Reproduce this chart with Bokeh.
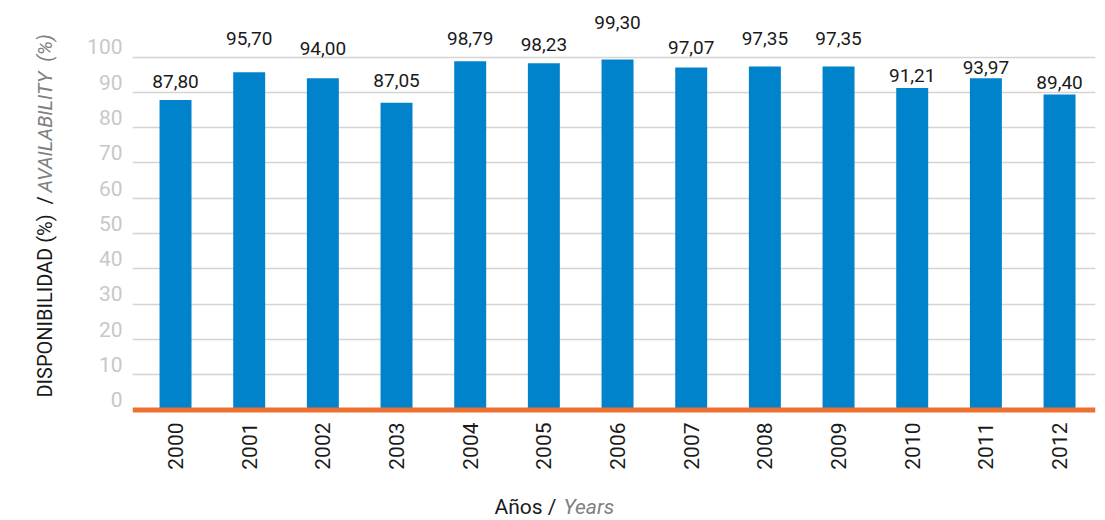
import numpy as np
from bokeh.plotting import figure
from bokeh.models import (ColumnDataSource, Range1d, FixedTicker, Span, Label,
                          CustomJSTickFormatter)
from bokeh.core.properties import value
from bokeh.embed import file_html
from bokeh.resources import INLINE

# Yearly availability (%)
years = ["2000", "2001", "2002", "2003", "2004", "2005", "2006",
         "2007", "2008", "2009", "2010", "2011", "2012"]
availability = [87.80, 95.70, 94.00, 87.05, 98.79, 98.23, 99.30,
                97.07, 97.35, 97.35, 91.21, 93.97, 89.40]
y_ticks = [0, 10, 20, 30, 40, 50, 60, 70, 80, 90, 100]

# how far (px) each value label's baseline sits above its bar
label_lift = [12, 27, 23, 15, 16, 12, 30, 13, 21, 21, 6, 4, 5]

FONT = "Roboto"
BLUE = "#0083CA"
ORANGE = "#EE7030"
DARK = "#1a1a1a"
GREY_TITLE = "#808080"
NB = "\u00a0"

# frame geometry (px) and the matching data ranges
X0, X1 = -0.584, 12.488
Y0, Y1 = -0.96, 114.6
FL, FR, FT, FB = 132, 1095, 5, 413


def dx(px):
    return X0 + (px - FL) * (X1 - X0) / (FR - FL)


def dy(py):
    return Y0 + (FB - py) * (Y1 - Y0) / (FB - FT)


idx = list(range(len(years)))
src = ColumnDataSource(dict(
    x=idx,
    v=availability,
    lbl=[f"{v:.2f}".replace(".", ",") for v in availability],
    off=[-(d + 7) for d in label_lift],
))

p = figure(width=1105, height=520,
           x_range=Range1d(X0, X1), y_range=Range1d(Y0, Y1),
           output_backend="svg", toolbar_location=None,
           min_border_left=FL, min_border_right=1105 - FR,
           min_border_top=FT, min_border_bottom=520 - FB)
p.outline_line_color = None

p.vbar(x="x", top="v", bottom=0, width=0.434, source=src,
       fill_color=BLUE, line_color=None)

p.text(x="x", y="v", text="lbl", y_offset="off", source=src,
       text_align="center", text_baseline="middle",
       text_font=value(FONT), text_font_size="19px", text_color=DARK)

# baseline
p.add_layout(Span(location=0, dimension="width",
                  line_color=ORANGE, line_width=5))

# grid
p.xgrid.visible = False
p.ygrid.ticker = FixedTicker(ticks=y_ticks[1:])
p.ygrid.grid_line_color = "#D4D4D4"
p.ygrid.grid_line_width = 1.5

# y axis: labels sit just above their grid line
lift = 2.9
ya = p.yaxis[0]
ya.ticker = FixedTicker(ticks=[t + lift for t in y_ticks])
ya.formatter = CustomJSTickFormatter(code="return String(Math.round(tick / 10) * 10);")
ya.axis_line_color = None
ya.major_tick_line_color = None
ya.minor_tick_line_color = None
ya.major_tick_out = 0
ya.major_label_standoff = 10
ya.major_label_text_font = FONT
ya.major_label_text_font_size = "21px"
ya.major_label_text_color = "#C8C8C8"

# x axis
xa = p.xaxis[0]
xa.ticker = FixedTicker(ticks=idx)
xa.major_label_overrides = {i: y for i, y in zip(idx, years)}
xa.major_label_orientation = np.pi / 2
xa.axis_line_color = None
xa.major_tick_line_color = None
xa.minor_tick_line_color = None
xa.major_tick_out = 0
xa.major_label_standoff = 9
xa.major_label_text_font = FONT
xa.major_label_text_font_size = "21px"
xa.major_label_text_color = DARK

# two-tone axis titles, kept in the side panels so they are not clipped
p.add_layout(Label(x=dx(44), y=dy(397), text=f"DISPONIBILIDAD (%){NB}{NB}/",
                   angle=np.pi / 2, text_align="left", text_baseline="middle",
                   text_font=FONT, text_font_size="20px", text_color=DARK),
             "left")
p.add_layout(Label(x=dx(44), y=dy(192), text=f"AVAILABILITY{NB}{NB}(%)",
                   angle=np.pi / 2, text_align="left", text_baseline="middle",
                   text_font=FONT, text_font_size="20px",
                   text_font_style="italic", text_color=GREY_TITLE),
             "left")
p.add_layout(Label(x=dx(494), y=dy(506), text="Años /",
                   text_align="left", text_baseline="middle",
                   text_font=FONT, text_font_size="21px", text_color=DARK),
             "below")
p.add_layout(Label(x=dx(563), y=dy(506), text="Years",
                   text_align="left", text_baseline="middle",
                   text_font=FONT, text_font_size="21px",
                   text_font_style="italic", text_color=GREY_TITLE),
             "below")

open("out.html", "w").write(file_html(p, INLINE))
